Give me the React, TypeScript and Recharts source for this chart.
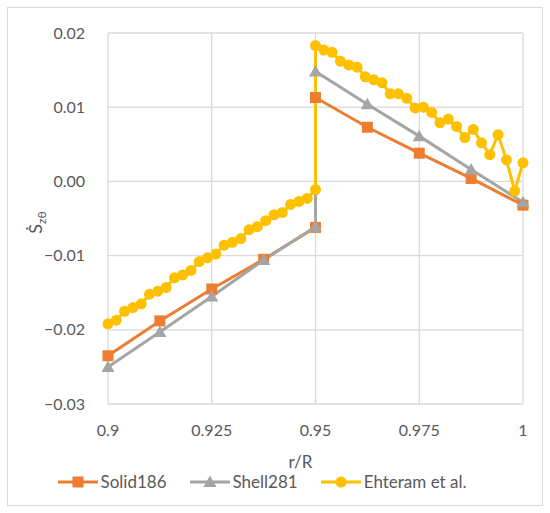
import React from "react";
import { LineChart, Line, XAxis, YAxis, CartesianGrid, Legend } from "recharts";

const xTicks = [0.9, 0.925, 0.95, 0.975, 1];
const yTicks = [-0.03, -0.02, -0.01, 0, 0.01, 0.02];

const solidX = [0.9, 0.9125, 0.925, 0.9375, 0.95, 0.95, 0.9625, 0.975, 0.9875, 1];
const solidY = [-0.0235, -0.0188, -0.0145, -0.0105, -0.0062, 0.0113, 0.0073, 0.0038, 0.0004, -0.0032];

const shellX = [0.9, 0.9125, 0.925, 0.9375, 0.95, 0.95, 0.9625, 0.975, 0.9875, 1];
const shellY = [-0.025, -0.0203, -0.0155, -0.0106, -0.0061, 0.0148, 0.0104, 0.0061, 0.0016, -0.0028];

const ehteramX = [
  0.9, 0.902, 0.904, 0.906, 0.908, 0.91, 0.912, 0.914, 0.916, 0.918, 0.92, 0.922, 0.924,
  0.926, 0.928, 0.93, 0.932, 0.934, 0.936, 0.938, 0.94, 0.942, 0.944, 0.946, 0.948, 0.95,
  0.95, 0.952, 0.954, 0.956, 0.958, 0.96, 0.962, 0.964, 0.966, 0.968, 0.97, 0.972, 0.974,
  0.976, 0.978, 0.98, 0.982, 0.984, 0.986, 0.988, 0.99, 0.992, 0.994, 0.996, 0.998, 1,
];
const ehteramY = [
  -0.0192, -0.0187, -0.0175, -0.017, -0.0165, -0.0152, -0.0148, -0.0143, -0.013, -0.0126, -0.012, -0.0108, -0.0103,
  -0.0098, -0.0086, -0.0082, -0.0077, -0.0065, -0.0061, -0.0053, -0.0045, -0.0042, -0.0031, -0.0027, -0.0023, -0.0011,
  0.0183, 0.0177, 0.0174, 0.0162, 0.0157, 0.0154, 0.0141, 0.0137, 0.0133, 0.0118, 0.0118, 0.0112, 0.0099,
  0.01, 0.0093, 0.0079, 0.0084, 0.0074, 0.0059, 0.007, 0.0052, 0.0036, 0.0063, 0.0029, -0.0013, 0.0025,
];

const toPoints = (xs: number[], ys: number[]) => xs.map((x, i) => ({ x, y: ys[i] }));
const solidData = toPoints(solidX, solidY);
const shellData = toPoints(shellX, shellY);
const ehteramData = toPoints(ehteramX, ehteramY);

const ORANGE = "#ED7D31";
const GRAY = "#A5A5A5";
const YELLOW = "#FFC000";
const TEXT = "#595959";
const FONT = "Lato, 'Open Sans', sans-serif";

const Square = (props: any) => {
  const { cx, cy, index } = props;
  return <rect key={`sq-${index}`} x={cx - 5.5} y={cy - 5.5} width={11} height={11} fill={ORANGE} />;
};

const Triangle = (props: any) => {
  const { cx, cy, index } = props;
  return (
    <path
      key={`tr-${index}`}
      d={`M${cx},${cy - 6.5} L${cx + 6.5},${cy + 5} L${cx - 6.5},${cy + 5} Z`}
      fill={GRAY}
    />
  );
};

const legendItems = [
  { name: "Solid186", color: ORANGE, marker: "square" },
  { name: "Shell281", color: GRAY, marker: "triangle" },
  { name: "Ehteram et al.", color: YELLOW, marker: "circle" },
];

const LegendContent = () => (
  <div style={{ display: "flex", justifyContent: "center", alignItems: "center", gap: 22, fontFamily: FONT, fontSize: 17, color: TEXT, marginLeft: -8 }}>
    {legendItems.map(item => (
      <div key={item.name} style={{ display: "flex", alignItems: "center" }}>
        <svg width={42} height={16} style={{ marginRight: 2 }}>
          <line x1={1} y1={8} x2={41} y2={8} stroke={item.color} strokeWidth={3} />
          {item.marker === "square" && <rect x={15.5} y={2.5} width={11} height={11} fill={item.color} />}
          {item.marker === "triangle" && <path d="M21,1.5 L27.5,13 L14.5,13 Z" fill={item.color} />}
          {item.marker === "circle" && <circle cx={21} cy={8} r={5.5} fill={item.color} />}
        </svg>
        <span>{item.name}</span>
      </div>
    ))}
  </div>
);

const XLabel = (props: any) => {
  const { viewBox } = props;
  return (
    <text x={viewBox.x + viewBox.width / 2 - 15} y={viewBox.y + 60} textAnchor="middle" dominantBaseline="middle" fill={TEXT} fontSize={17} fontFamily={FONT}>
      r/R
    </text>
  );
};

const YLabel = (props: any) => {
  const { viewBox } = props;
  const x = viewBox.x + 34;
  const y = viewBox.y + viewBox.height / 2 + 4;
  return (
    <text x={x} y={y} transform={`rotate(-90, ${x}, ${y})`} textAnchor="middle" fill={TEXT} fontSize={18} fontFamily={FONT}>
      Ṡ<tspan fontSize={12} dy={4}>zθ</tspan>
    </text>
  );
};

const fmtY = (v: number) => v.toFixed(2).replace("-", "−");

export default function App() {
  return (
    <div style={{ position: "absolute", left: 7, top: 7, width: 534, height: 497, border: "1px solid #d9d9d9", background: "#fff" }}>
      <LineChart width={534} height={497} margin={{ top: 25, right: 19, left: 0, bottom: 0 }}>
        <CartesianGrid stroke="#d9d9d9" strokeWidth={1.3} />
        <XAxis
          dataKey="x"
          type="number"
          domain={[0.9, 1]}
          ticks={xTicks}
          tickFormatter={(v: number) => String(v)}
          axisLine={false}
          tickLine={false}
          tickSize={0}
          tickMargin={21}
          height={67}
          tick={{ fill: TEXT, fontSize: 16, fontFamily: FONT }}
          label={<XLabel />}
        />
        <YAxis
          type="number"
          domain={[-0.03, 0.02]}
          ticks={yTicks}
          tickFormatter={fmtY}
          axisLine={false}
          tickLine={false}
          tickSize={0}
          tickMargin={23}
          width={100}
          tick={{ fill: TEXT, fontSize: 16, fontFamily: FONT }}
          label={<YLabel />}
        />
        <Legend verticalAlign="bottom" height={34} content={<LegendContent />} />
        <Line data={solidData} dataKey="y" name="Solid186" stroke={ORANGE} strokeWidth={3} dot={Square} activeDot={false} isAnimationActive={false} />
        <Line data={shellData} dataKey="y" name="Shell281" stroke={GRAY} strokeWidth={3} dot={Triangle} activeDot={false} isAnimationActive={false} />
        <Line data={ehteramData} dataKey="y" name="Ehteram et al." stroke={YELLOW} strokeWidth={3} dot={{ r: 5.5, fill: YELLOW, stroke: "none" }} activeDot={false} isAnimationActive={false} />
      </LineChart>
    </div>
  );
}
